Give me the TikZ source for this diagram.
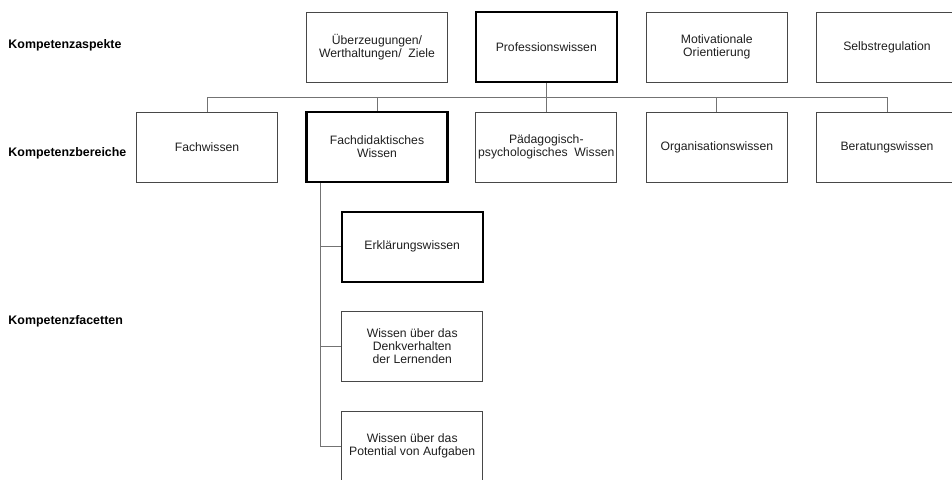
\documentclass[tikz,border=0pt]{standalone}
\usepackage{fontspec}
\setmainfont{Liberation Sans}
\begin{document}
\begin{tikzpicture}[x=1pt,y=-1pt,
  box/.style={draw=black!72, line width=0.9pt, rectangle, minimum width=141pt,
    minimum height=70pt, align=center, inner sep=1pt,
    font=\fontsize{12.2}{13}\selectfont, text=black!88},
  keybox/.style={box, draw=black, line width=2.3pt},
  rowlabel/.style={anchor=west, inner sep=0pt, font=\fontsize{12.4}{14}\selectfont\bfseries},
  conn/.style={draw=black!55, line width=0.9pt}]
\useasboundingbox (0,0) rectangle (952,479);
\clip (0,0) rectangle (952,479);

% row labels
\node[rowlabel] (lA) at (8.3,45) {Kompetenzaspekte};
\node[rowlabel] (lB) at (8.3,153) {Kompetenzbereiche};
\node[rowlabel] (lC) at (8.3,321.5) {Kompetenzfacetten};

% competence aspects
\node[box]    (ueb)  at (377,47)   {Überzeugungen/\\Werthaltungen/~~Ziele};
\node[keybox] (prof) at (546.3,47) {Professionswissen};
\node[box]    (mot)  at (716.8,47) {Motivationale\\Orientierung};
\node[box]    (selb) at (887,47)   {Selbstregulation};

% competence areas
\node[box]    (fw)   at (207,147)   {Fachwissen};
\node[keybox] (fd)   at (377,147)   {Fachdidaktisches\\Wissen};
\node[box]    (paed) at (546.3,147) {Pädagogisch-\\psychologisches~~Wissen};
\node[box]    (org)  at (716.8,147) {Organisationswissen};
\node[box]    (ber)  at (887,147)   {Beratungswissen};

% competence facets
\node[keybox] (f1) at (412.2,246.7) {Erklärungswissen};
\node[box]    (f2) at (412.2,346)   {Wissen über das\\Denkverhalten\\der Lernenden};
\node[box]    (f3) at (412.2,446)   {Wissen über das\\Potential von Aufgaben};

% tree connectors
\coordinate (bus) at (0,97);
\coordinate (spine) at (320.7,0);
\draw[conn] (fw.north) -- (fw.north |- bus) -- (ber.north |- bus) -- (ber.north);
\draw[conn] (prof.south) -- (paed.north);
\draw[conn] (fd.north |- bus) -- (fd.north);
\draw[conn] (org.north |- bus) -- (org.north);

\draw[conn] (fd.south -| spine) -- (spine |- f3.west) -- (f3.west);
\draw[conn] (spine |- f1.west) -- (f1.west);
\draw[conn] (spine |- f2.west) -- (f2.west);
\end{tikzpicture}
\end{document}
